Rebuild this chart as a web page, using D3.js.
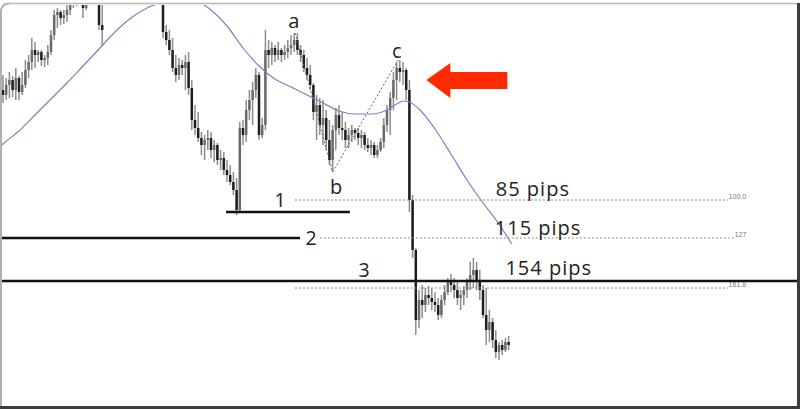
<!DOCTYPE html>
<html><head><meta charset="utf-8">
<script src="https://cdn.jsdelivr.net/npm/d3@7/dist/d3.min.js"></script>
<style>html,body{margin:0;padding:0;background:#fff;}svg{display:block;}</style>
</head><body>
<svg id="chart" width="800" height="409"></svg>
<script>
// OHLC bars: [open, high, low, close] (price points)
const bars = [
[410,425,397,405],[405,422,400,415],[415,428,402,420],[420,424,403,410],[410,432,400,422],
[422,424,400,408],[408,428,405,415],[415,440,412,430],[430,445,422,438],[438,462,430,450],
[450,458,432,445],[445,450,438,448],[448,450,434,440],[440,445,433,442],[442,455,435,448],
[448,470,445,465],[465,490,460,485],[485,492,472,488],[488,490,475,482],[482,490,476,485],
[485,495,478,490],[490,500,485,495],[495,505,492,497],[497,505,494,498],[498,508,495,500],
[500,510,482,492],[492,520,490,510],[510,530,508,525],[525,535,515,520],[520,530,505,510],
[510,520,470,475],[475,495,454,470],[505,530,502,525],[525,540,518,535],[535,548,528,542],
[542,555,536,550],[550,560,540,545],[545,558,538,555],[555,568,548,560],[560,572,552,565],
[565,575,555,558],[558,570,550,562],[562,574,556,570],[570,580,560,566],[566,576,556,560],
[560,570,548,552],[552,562,540,545],[545,555,532,538],[538,548,525,530],[530,540,515,520],
[510,515,462,468],[468,475,455,460],[460,470,445,450],[450,462,428,432],[432,445,418,425],
[425,442,420,435],[435,440,425,432],[432,445,410,438],[438,448,405,412],[412,420,370,380],
[380,395,365,372],[372,388,358,362],[362,368,345,355],[355,365,340,360],[360,370,350,362],
[362,368,342,350],[350,360,338,355],[355,357,335,340],[340,350,330,342],[342,348,325,330],
[330,340,318,325],[325,335,315,318],[318,328,305,310],[310,322,285,290],[290,378,288,372],
[372,380,355,365],[365,400,358,390],[390,410,380,400],[400,418,375,410],[410,432,402,425],
[425,428,360,365],[365,382,362,375],[375,470,370,450],[450,460,432,445],[445,458,435,452],
[452,455,438,445],[445,458,440,450],[450,452,438,445],[445,455,440,448],[448,460,442,452],
[452,465,445,455],[455,467,448,460],[460,467,445,450],[450,455,438,445],[445,450,428,432],
[432,442,420,425],[425,435,410,415],[415,417,380,388],[388,405,360,395],[395,402,365,375],
[375,400,355,382],[382,390,350,360],[360,380,335,340],[340,375,328,370],[370,392,350,385],
[385,395,365,372],[372,388,360,370],[370,378,352,360],[360,372,352,365],[365,375,358,370],
[370,372,360,367],[367,372,355,362],[362,370,352,365],[365,368,350,355],[355,362,348,352],
[352,360,345,355],[355,358,342,345],[345,355,342,350],[350,362,348,358],[358,382,352,375],
[375,395,368,390],[390,408,365,402],[402,428,390,420],[420,438,400,432],[432,440,418,428],
[428,438,415,430],[430,432,400,410],[410,420,288,300],[300,305,242,250],[250,252,165,180],
[180,210,172,200],[200,215,182,195],[195,212,188,205],[205,214,195,202],[202,212,190,198],
[198,208,188,195],[195,202,180,185],[185,205,182,200],[200,215,195,208],[208,222,205,218],
[218,226,208,215],[215,222,202,210],[210,218,195,202],[202,210,190,205],[205,214,195,210],
[210,222,202,218],[218,238,210,225],[225,242,212,230],[230,238,210,220],[220,230,200,210],
[210,215,182,185],[185,212,155,170],[170,190,158,178],[178,182,152,160],[160,170,142,148],
[148,158,140,155],[155,160,145,150],[150,162,148,158],[158,164,150,155]
];

// Moving average read at bar indices
const maIndex = [-1,0,5,10,15,20,25,30,35,40,45,50,55,60,65,70,75,80,85,90,95,100,105,110,115,120,123,125,127,130,135,140,145,150,155,158,159];
const maValue = [353,356,369,385,401,417,434,451,468,482,492,498,503,500,490,474,452,434,421,413,405,397,389,386,386,390,396,399,398,391,371,346,320,297,276,261,256];

// ABC pattern points
const abcIndex = [91.3, 103, 123.5];
const abcPrice = [467, 328, 440];
const abcLabels = ["a", "b", "c"];

// Fibonacci projection levels (dotted)
const fibPrice = [300, 262, 212];
const fibTags = ["100.0", "127", "161.8"];
const pipLabels = ["85 pips", "115 pips", "154 pips"];

// Solid support lines
const lineStart = [69.7, -2, -2];
const lineEnd = [108.4, 92.8, 260];
const linePrice = [288, 262, 219];
const lineLabels = ["1", "2", "3"];

const svg = d3.select("#chart");
const x = d3.scaleLinear().domain([0, 158]).range([3, 508.6]);
const y = d3.scaleLinear().domain([500, 91]).range([0, 409]);

svg.append("defs").append("clipPath").attr("id","clip")
  .append("rect").attr("x",2).attr("y",5).attr("width",795).attr("height",401);

const g = svg.append("g").attr("clip-path","url(#clip)");

// Bars
const bw = 2.5;
g.selectAll("line.wick").data(bars).join("line")
  .attr("class","wick")
  .attr("x1",(d,i)=>x(i)).attr("x2",(d,i)=>x(i))
  .attr("y1",d=>y(d[1])).attr("y2",d=>y(d[2]))
  .attr("stroke","#8c8c8c").attr("stroke-width",1.5);
g.selectAll("rect.body").data(bars).join("rect")
  .attr("class","body")
  .attr("x",(d,i)=>x(i)-bw/2).attr("width",bw)
  .attr("y",d=>y(Math.max(d[0],d[3])))
  .attr("height",d=>Math.max(1,Math.abs(y(d[0])-y(d[3]))))
  .attr("fill",d=>d[3] < d[0] ? "#1e1e1e" : "#6a6a6a");

// MA line
const maData = maIndex.map((k,i)=>[k, maValue[i]]);
g.append("path").datum(maData)
  .attr("d", d3.line().x(d=>x(d[0])).y(d=>y(d[1])).curve(d3.curveMonotoneX))
  .attr("fill","none").attr("stroke","#7585c2").attr("stroke-width",1.2);

// ABC dotted lines
const abc = abcIndex.map((k,i)=>[k, abcPrice[i]]);
g.append("path").datum(abc)
  .attr("d", d3.line().x(d=>x(d[0])).y(d=>y(d[1])))
  .attr("fill","none").attr("stroke","#666").attr("stroke-width",1).attr("stroke-dasharray","2,2");

// Fib dotted lines
const fibStart = [91.2, 99, 91.2];
const fibEnd = [226.6, 228.5, 226.6];
fibPrice.forEach((p,i)=>{
  g.append("line").attr("x1",x(fibStart[i])).attr("x2",x(fibEnd[i]))
    .attr("y1",y(p)).attr("y2",y(p))
    .attr("stroke","#8a8a8a").attr("stroke-width",1).attr("stroke-dasharray","2,2");
  svg.append("text").attr("x",x(fibEnd[i])+0.5).attr("y",y(p)-1)
    .attr("font-family","Liberation Sans, Arial, sans-serif").attr("font-size",7)
    .attr("fill","#777").text(fibTags[i]);
});

// Solid lines
linePrice.forEach((p,i)=>{
  g.append("line").attr("x1",x(lineStart[i])).attr("x2",x(lineEnd[i]))
    .attr("y1",y(p)).attr("y2",y(p))
    .attr("stroke","#111").attr("stroke-width",2.6);
});

const font = "Open Sans, Noto Sans, sans-serif";
// line number labels
const numX = [86.6, 96.3, 112.8];
const numP = [293, 255, 223];
lineLabels.forEach((t,i)=>{
  svg.append("text").attr("x",x(numX[i])).attr("y",y(numP[i]))
    .attr("text-anchor","middle").attr("font-family",font).attr("font-size",19.5)
    .attr("fill","#222").text(t);
});
// pip labels
const pipX = [154, 153.7, 157];
const pipP = [304, 265, 225];
pipLabels.forEach((t,i)=>{
  svg.append("text").attr("x",x(pipX[i])).attr("y",y(pipP[i]))
    .attr("font-family",font).attr("font-size",20).attr("letter-spacing",1.0)
    .attr("fill","#222").text(t);
});
// abc labels
const abcLX = [90.9, 104.1, 123.1];
const abcLP = [472, 306, 442];
abcLabels.forEach((t,i)=>{
  svg.append("text").attr("x",x(abcLX[i])).attr("y",y(abcLP[i]))
    .attr("text-anchor","middle").attr("font-family",font).attr("font-size",20)
    .attr("fill","#222").text(t);
});

// Red arrow anchored at a bar/price point
const ax = x(132.3), ay = y(420);
const arrow = [[0,0],[24,-17],[24,-8],[81,-8],[81,9],[24,9],[24,18]];
svg.append("polygon").attr("points", arrow.map(p=>[ax+p[0], ay+p[1]].join(",")).join(" "))
  .attr("fill","#ff2a00");

// Frame
svg.append("line").attr("x1",8).attr("x2",798).attr("y1",3.5).attr("y2",3.5).attr("stroke","#b8b8b8").attr("stroke-width",1.5);
svg.append("path").attr("d","M1,409 L1,12 Q1,3.5 9,3.5").attr("fill","none").attr("stroke","#b0b0b0").attr("stroke-width",2);
svg.append("line").attr("x1",798.5).attr("x2",798.5).attr("y1",3).attr("y2",409).attr("stroke","#3c3c3c").attr("stroke-width",3);
svg.append("line").attr("x1",0).attr("x2",800).attr("y1",407.5).attr("y2",407.5).attr("stroke","#3c3c3c").attr("stroke-width",3);
</script>
</body></html>
